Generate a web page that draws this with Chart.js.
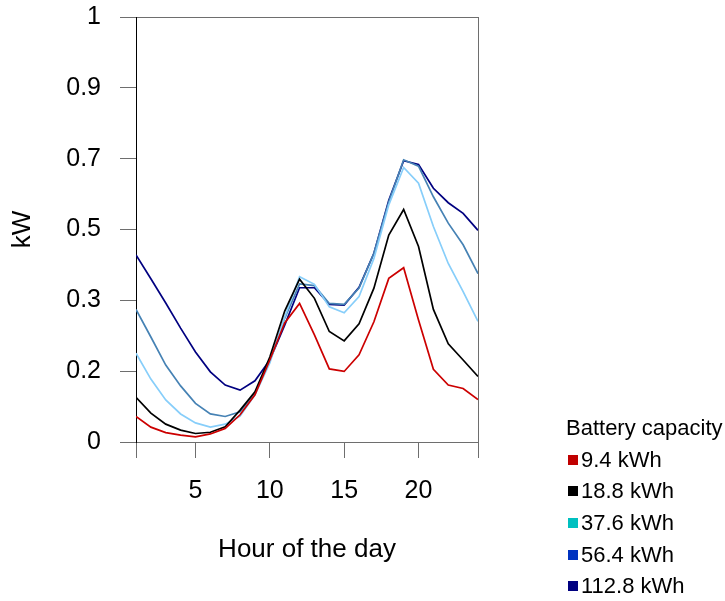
<!DOCTYPE html>
<html>
<head>
<meta charset="utf-8">
<script src="https://cdn.jsdelivr.net/npm/chart.js@4.4.1/dist/chart.umd.min.js"></script>
<style>
  html, body { margin: 0; padding: 0; background: #fff; }
  #wrap { position: relative; width: 725px; height: 601px; }
  #legend {
    position: absolute; left: 566px; top: 412.5px;
    font-family: "Liberation Sans", Arial, sans-serif; font-size: 22px; color: #000;
  }
  #legend .row { display: flex; align-items: center; height: 31.6px; white-space: nowrap; }
  #legend .box { width: 10px; height: 10px; margin-left: 1.5px; margin-right: 3.5px; }
</style>
</head>
<body>
<div id="wrap">
  <canvas id="chart" width="725" height="601"></canvas>
  <div id="legend"></div>
</div>
<script>
const hours = [1, 2, 3, 4, 5, 6, 7, 8, 9, 10, 11, 12, 13, 14, 15, 16, 17, 18, 19, 20, 21, 22, 23, 24];
const xTickValues = [1, 5, 10, 15, 20, 24];
const xTickLabels = ['', '5', '10', '15', '20', ''];
const yTickValues = [0, 1 / 6, 2 / 6, 3 / 6, 4 / 6, 5 / 6, 1];
const yTickLabels = ['0', '0.2', '0.3', '0.5', '0.7', '0.9', '1'];
const capacities = ['9.4 kWh', '18.8 kWh', '37.6 kWh', '56.4 kWh', '112.8 kWh'];

// kW by hour of the day, one list per battery size
const kw9_4 = [0.060, 0.035, 0.022, 0.016, 0.012, 0.019, 0.032, 0.064, 0.111, 0.193, 0.280, 0.326,
               0.252, 0.172, 0.166, 0.205, 0.283, 0.385, 0.410, 0.287, 0.171, 0.134, 0.126, 0.100];
const kw18_8 = [0.105, 0.068, 0.042, 0.028, 0.020, 0.023, 0.036, 0.075, 0.118, 0.200, 0.308, 0.383,
                0.338, 0.260, 0.238, 0.278, 0.362, 0.487, 0.547, 0.460, 0.312, 0.231, 0.193, 0.154];
const kw37_6 = [0.209, 0.148, 0.099, 0.066, 0.045, 0.035, 0.042, 0.061, 0.111, 0.186, 0.294, 0.389,
                0.371, 0.318, 0.304, 0.342, 0.432, 0.558, 0.646, 0.609, 0.507, 0.420, 0.354, 0.284];
const kw56_4 = [0.312, 0.247, 0.181, 0.132, 0.091, 0.066, 0.060, 0.071, 0.115, 0.191, 0.291, 0.372,
                0.368, 0.326, 0.324, 0.362, 0.444, 0.565, 0.664, 0.649, 0.577, 0.515, 0.464, 0.396];
const kw112_8 = [0.440, 0.384, 0.327, 0.268, 0.212, 0.165, 0.134, 0.122, 0.144, 0.193, 0.275, 0.363,
                 0.363, 0.324, 0.322, 0.364, 0.444, 0.569, 0.662, 0.653, 0.597, 0.563, 0.538, 0.498];

const series = [kw9_4, kw18_8, kw37_6, kw56_4, kw112_8];
const lineColors = ['#cc0000', '#000000', '#87cefa', '#4682b4', '#000080'];
const legendColors = ['#c00000', '#000000', '#00c0c0', '#0033c0', '#000080'];

const gray = '#6e6e6e';
const clear = 'rgba(0,0,0,0)';
const fam = "'Liberation Sans', Arial, sans-serif";
const tickFont = { family: fam, size: 25 };
const titleFont = { family: fam, size: 26 };

// legend drawn as html, placed under the plot on the right
const legendDiv = document.getElementById('legend');
const legendTitle = document.createElement('div');
legendTitle.className = 'row';
legendTitle.textContent = 'Battery capacity';
legendDiv.append(legendTitle);
capacities.forEach((name, i) => {
    const row = document.createElement('div');
    row.className = 'row';
    const box = document.createElement('span');
    box.className = 'box';
    box.style.background = legendColors[i];
    const txt = document.createElement('span');
    txt.textContent = name;
    row.append(box, txt);
    legendDiv.append(row);
});

const ctx = document.getElementById('chart').getContext('2d');
new Chart(ctx, {
    type: 'line',
    data: {
        datasets: series.map((vals, i) => ({
            label: capacities[i],
            data: hours.map((h, j) => ({ x: h, y: vals[j] })),
            borderColor: lineColors[i],
            borderWidth: 1.7,
            pointRadius: 0,
            fill: false,
            tension: 0
        }))
    },
    options: {
        responsive: false,
        animation: false,
        layout: { padding: { top: 17, right: 247, left: 0, bottom: 0 } },
        plugins: { legend: { display: false }, tooltip: { enabled: false } },
        scales: {
            x: {
                type: 'linear', min: 1, max: 24,
                afterFit: s => { s.height = 159; s.paddingLeft = 0; s.paddingRight = 0; },
                afterBuildTicks: s => { s.ticks = xTickValues.map(v => ({ value: v })); },
                ticks: {
                    callback: (v, i) => xTickLabels[i],
                    font: tickFont, color: '#000', padding: 18.5,
                    maxRotation: 0, autoSkip: false
                },
                grid: {
                    color: c => (c.tick && c.tick.value === 24) ? gray : clear,
                    tickColor: gray, tickLength: 16, lineWidth: 1
                },
                border: { display: false },
                title: { display: true, text: 'Hour of the day', font: titleFont, color: '#000', padding: { top: 0, bottom: 35.4 } }
            },
            y: {
                min: 0, max: 1,
                afterFit: s => { s.width = 136; s.paddingTop = 0; s.paddingBottom = 0; },
                afterBuildTicks: s => { s.ticks = yTickValues.map(v => ({ value: v })); },
                ticks: {
                    callback: (v, i) => yTickLabels[i],
                    font: tickFont, color: '#000', padding: 19, autoSkip: false
                },
                grid: {
                    color: c => (c.tick && (c.tick.value === 0 || c.tick.value === 1)) ? gray : clear,
                    tickColor: gray, tickLength: 16, lineWidth: 1
                },
                border: { color: '#000', width: 1 },
                title: { display: true, text: 'kW', font: titleFont, color: '#000', padding: { top: 6.9, bottom: 0 } }
            }
        }
    }
});
</script>
</body>
</html>
